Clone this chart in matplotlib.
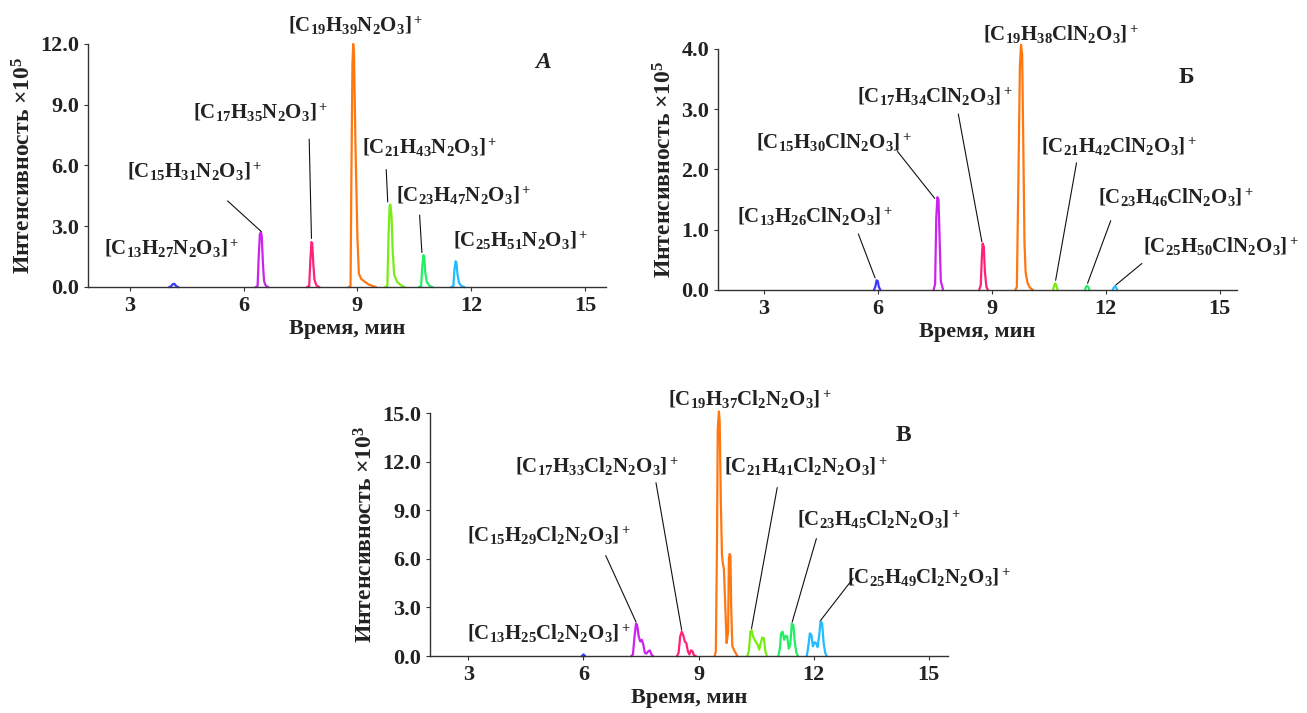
import matplotlib
matplotlib.use("Agg")
import matplotlib.pyplot as plt

plt.rcParams["font.family"] = ["Liberation Serif", "DejaVu Serif"]
plt.rcParams["font.weight"] = "bold"
plt.rcParams["axes.labelweight"] = "bold"
plt.rcParams["mathtext.fontset"] = "custom"
plt.rcParams["mathtext.rm"] = "Liberation Serif:bold"
plt.rcParams["mathtext.bf"] = "Liberation Serif:bold"
plt.rcParams["mathtext.it"] = "Liberation Serif:italic:bold"
plt.rcParams["mathtext.default"] = "rm"

# colours of the homologues C13 ... C25
colors = ["#3a3aff", "#cc22ee", "#ff2277", "#ff7711", "#77ee11", "#22ee66", "#22bbff"]

# ---- panel A (x1e5) ----
a13_t = [4.05, 4.10, 4.14, 4.18, 4.22, 4.27]
a13_i = [0, 0.05, 0.15, 0.15, 0.05, 0]
a15_t = [6.33, 6.37, 6.40, 6.43, 6.46, 6.48, 6.51, 6.54, 6.58, 6.64]
a15_i = [0, 0.05, 1.5, 2.6, 2.72, 2.5, 1.2, 0.3, 0.08, 0]
a17_t = [7.68, 7.73, 7.76, 7.79, 7.81, 7.84, 7.87, 7.92, 7.99]
a17_i = [0, 0.05, 1.3, 2.22, 2.15, 1.1, 0.35, 0.08, 0]
a19_t = [8.78, 8.82, 8.84, 8.87, 8.89, 8.91, 8.95, 9.00, 9.04, 9.10, 9.20, 9.30, 9.40, 9.48]
a19_i = [0, 0.05, 5.0, 11.0, 12.0, 11.5, 7.0, 2.5, 0.66, 0.4, 0.25, 0.12, 0.05, 0]
a21_t = [9.74, 9.79, 9.82, 9.85, 9.87, 9.90, 9.93, 9.97, 10.05, 10.15, 10.23]
a21_i = [0, 0.05, 2.5, 4.0, 4.07, 3.5, 1.8, 0.6, 0.25, 0.08, 0]
a23_t = [10.63, 10.68, 10.71, 10.74, 10.76, 10.79, 10.83, 10.90, 10.97]
a23_i = [0, 0.05, 1.0, 1.57, 1.5, 0.7, 0.25, 0.06, 0]
a25_t = [11.48, 11.53, 11.56, 11.59, 11.61, 11.64, 11.68, 11.74, 11.81]
a25_i = [0, 0.05, 0.9, 1.27, 1.2, 0.6, 0.2, 0.05, 0]

a_labels = [r"[C$_{13}$H$_{27}$N$_2$O$_3$]$^+$", r"[C$_{15}$H$_{31}$N$_2$O$_3$]$^+$",
            r"[C$_{17}$H$_{35}$N$_2$O$_3$]$^+$", r"[C$_{19}$H$_{39}$N$_2$O$_3$]$^+$",
            r"[C$_{21}$H$_{43}$N$_2$O$_3$]$^+$", r"[C$_{23}$H$_{47}$N$_2$O$_3$]$^+$",
            r"[C$_{25}$H$_{51}$N$_2$O$_3$]$^+$"]
a_label_xy = [(4.1, 1.9), (4.7, 5.7), (6.45, 8.6), (8.95, 12.9), (10.9, 6.85), (11.8, 4.5), (13.3, 2.3)]
a_leaders = [None, ((5.58, 4.25), (6.46, 2.75)), ((7.73, 7.3), (7.79, 2.4)), None,
             ((9.76, 5.8), (9.80, 4.2)), ((10.64, 3.55), (10.70, 1.7)), None]

# ---- panel B (x1e5) ----
b13_t = [5.90, 5.94, 5.97, 6.00, 6.03, 6.07]
b13_i = [0, 0.06, 0.16, 0.15, 0.05, 0]
b15_t = [7.47, 7.51, 7.54, 7.57, 7.60, 7.63, 7.66, 7.72]
b15_i = [0, 0.1, 1.2, 1.54, 1.5, 0.8, 0.15, 0]
b17_t = [8.67, 8.71, 8.74, 8.76, 8.79, 8.82, 8.86, 8.90]
b17_i = [0, 0.08, 0.55, 0.77, 0.72, 0.3, 0.05, 0]
b19_t = [9.62, 9.66, 9.70, 9.74, 9.77, 9.80, 9.83, 9.86, 9.89, 9.94, 10.00, 10.08]
b19_i = [0, 0.05, 1.8, 3.7, 4.07, 3.9, 2.4, 0.8, 0.3, 0.12, 0.04, 0]
b21_t = [10.61, 10.64, 10.67, 10.70, 10.73]
b21_i = [0, 0.07, 0.11, 0.07, 0]
b23_t = [11.45, 11.48, 11.51, 11.54, 11.57]
b23_i = [0, 0.05, 0.07, 0.05, 0]
b25_t = [12.18, 12.21, 12.24, 12.27, 12.30]
b25_i = [0, 0.04, 0.06, 0.04, 0]

b_labels = [r"[C$_{13}$H$_{26}$ClN$_2$O$_3$]$^+$", r"[C$_{15}$H$_{30}$ClN$_2$O$_3$]$^+$",
            r"[C$_{17}$H$_{34}$ClN$_2$O$_3$]$^+$", r"[C$_{19}$H$_{38}$ClN$_2$O$_3$]$^+$",
            r"[C$_{21}$H$_{42}$ClN$_2$O$_3$]$^+$", r"[C$_{23}$H$_{46}$ClN$_2$O$_3$]$^+$",
            r"[C$_{25}$H$_{50}$ClN$_2$O$_3$]$^+$"]
b_label_xy = [(4.35, 1.21), (4.86, 2.44), (7.5, 3.2), (10.82, 4.23), (12.34, 2.37), (13.84, 1.53), (15.02, 0.71)]
b_leaders = [((5.49, 0.93), (5.93, 0.2)), ((6.52, 2.30), (7.50, 1.52)), ((8.12, 2.92), (8.74, 0.8)), None,
             ((11.23, 2.11), (10.68, 0.16)), ((12.13, 1.15), (11.52, 0.11)), ((12.95, 0.44), (12.26, 0.08))]

# ---- panel C (x1e3) ----
c13_t = [5.96, 6.00, 6.04]
c13_i = [0, 0.1, 0]
c15_t = [7.25, 7.29, 7.33, 7.37, 7.40, 7.44, 7.48, 7.52, 7.56, 7.60, 7.64, 7.69, 7.73, 7.77, 7.81]
c15_i = [0, 0.1, 1.2, 2.0, 1.9, 1.2, 0.9, 1.0, 0.7, 0.2, 0.15, 0.3, 0.35, 0.1, 0]
c17_t = [8.44, 8.48, 8.52, 8.56, 8.60, 8.64, 8.68, 8.72, 8.76, 8.80, 8.84, 8.88, 8.92]
c17_i = [0, 0.2, 1.2, 1.5, 1.3, 0.9, 0.8, 0.3, 0.1, 0.35, 0.3, 0.05, 0]
c19_t = [9.42, 9.45, 9.48, 9.50, 9.53, 9.55, 9.58, 9.61, 9.64, 9.66, 9.69, 9.73, 9.77, 9.79, 9.81, 9.83, 9.85, 9.88, 9.94, 10.01]
c19_i = [0, 0.3, 7.0, 14.0, 15.1, 14.5, 9.5, 6.2, 5.6, 5.4, 3.5, 0.8, 1.5, 6.0, 6.3, 6.2, 3.0, 0.6, 0.3, 0]
c21_t = [10.27, 10.31, 10.35, 10.38, 10.42, 10.46, 10.50, 10.54, 10.58, 10.62, 10.66, 10.70, 10.74, 10.78]
c21_i = [0, 0.3, 1.5, 1.6, 1.2, 1.0, 0.85, 0.7, 0.4, 0.8, 1.15, 1.1, 0.3, 0]
c23_t = [11.08, 11.12, 11.15, 11.19, 11.23, 11.27, 11.31, 11.35, 11.39, 11.43, 11.47, 11.51, 11.55, 11.59]
c23_i = [0, 0.5, 1.4, 1.5, 1.0, 1.25, 1.2, 0.45, 0.7, 2.0, 1.9, 0.8, 0.2, 0]
c25_t = [11.82, 11.86, 11.90, 11.94, 11.98, 12.02, 12.06, 12.10, 12.14, 12.18, 12.22, 12.26, 12.30, 12.34]
c25_i = [0, 0.6, 1.4, 1.3, 0.6, 0.85, 0.8, 0.55, 1.2, 2.15, 2.0, 0.8, 0.2, 0]

c_labels = [r"[C$_{13}$H$_{25}$Cl$_2$N$_2$O$_3$]$^+$", r"[C$_{15}$H$_{29}$Cl$_2$N$_2$O$_3$]$^+$",
            r"[C$_{17}$H$_{33}$Cl$_2$N$_2$O$_3$]$^+$", r"[C$_{19}$H$_{37}$Cl$_2$N$_2$O$_3$]$^+$",
            r"[C$_{21}$H$_{41}$Cl$_2$N$_2$O$_3$]$^+$", r"[C$_{23}$H$_{45}$Cl$_2$N$_2$O$_3$]$^+$",
            r"[C$_{25}$H$_{49}$Cl$_2$N$_2$O$_3$]$^+$"]
c_label_xy = [(5.1, 1.35), (5.1, 7.4), (6.35, 11.7), (10.35, 15.8), (11.8, 11.7), (13.7, 8.4), (15.0, 4.8)]
c_leaders = [None, ((6.58, 6.2), (7.37, 2.1)), ((7.89, 10.7), (8.56, 1.6)), None,
             ((11.05, 10.4), (10.38, 1.7)), ((12.07, 7.25), (11.44, 2.1)), ((13.03, 4.8), (12.18, 2.2))]

panels = [
    dict(pos=[0.0673, 0.5975, 0.3963, 0.3408], xlim=(1.9, 15.55), ylim=(0, 12.0), yticks=[0, 3, 6, 9, 12],
         exp="5", letter="A", letter_xy=(13.9, 11.1), letter_style="italic",
         traces=[(a13_t, a13_i), (a15_t, a15_i), (a17_t, a17_i), (a19_t, a19_i),
                 (a21_t, a21_i), (a23_t, a23_i), (a25_t, a25_i)],
         labels=a_labels, label_xy=a_label_xy, leaders=a_leaders),
    dict(pos=[0.5494, 0.5933, 0.397, 0.3380], xlim=(1.8, 15.45), ylim=(0, 4.0), yticks=[0, 1, 2, 3, 4],
         exp="5", letter="Б", letter_xy=(14.13, 3.52), letter_style="normal",
         traces=[(b13_t, b13_i), (b15_t, b15_i), (b17_t, b17_i), (b19_t, b19_i),
                 (b21_t, b21_i), (b23_t, b23_i), (b25_t, b25_i)],
         labels=b_labels, label_xy=b_label_xy, leaders=b_leaders),
    dict(pos=[0.329, 0.0799, 0.3963, 0.3408], xlim=(2.0, 15.5), ylim=(0, 15.0), yticks=[0, 3, 6, 9, 12, 15],
         exp="3", letter="В", letter_xy=(14.35, 13.6), letter_style="normal",
         traces=[(c13_t, c13_i), (c15_t, c15_i), (c17_t, c17_i), (c19_t, c19_i),
                 (c21_t, c21_i), (c23_t, c23_i), (c25_t, c25_i)],
         labels=c_labels, label_xy=c_label_xy, leaders=c_leaders),
]

fig = plt.figure(figsize=(13.07, 7.13), dpi=100)

for p in panels:
    ax = fig.add_axes(p["pos"])
    for (t, i), col in zip(p["traces"], colors):
        ax.plot(t, i, color=col, lw=1.6, clip_on=False)
    for txt, xy in zip(p["labels"], p["label_xy"]):
        ax.text(xy[0], xy[1], txt, ha="center", va="center", fontsize=15, color="#222222")
    for ld in p["leaders"]:
        if ld is not None:
            ax.annotate("", xy=ld[1], xytext=ld[0],
                        arrowprops=dict(arrowstyle="-", color="#111111", lw=0.8,
                                        shrinkA=0, shrinkB=0))
    ax.text(p["letter_xy"][0], p["letter_xy"][1], p["letter"], ha="center", va="center",
            fontsize=17, style=p["letter_style"], color="#222222")

    ax.set_xlim(*p["xlim"])
    ax.set_ylim(*p["ylim"])
    ax.set_xticks([3, 6, 9, 12, 15])
    ax.set_yticks(p["yticks"])
    ax.set_yticklabels([f"{v:.1f}" for v in p["yticks"]])
    for s in ["top", "right"]:
        ax.spines[s].set_visible(False)
    for s in ["left", "bottom"]:
        ax.spines[s].set_color("#333333")
        ax.spines[s].set_linewidth(1.0)
    ax.tick_params(axis="both", labelsize=16, length=3, width=0.8, colors="#333333",
                   labelcolor="#222222")
    ax.set_xlabel("Время, мин", fontsize=16, color="#222222", labelpad=2)
    ax.set_ylabel("Интенсивность ×10$^" + p["exp"] + "$", fontsize=17, color="#222222", labelpad=3)

plt.savefig("out.png", dpi=100)
